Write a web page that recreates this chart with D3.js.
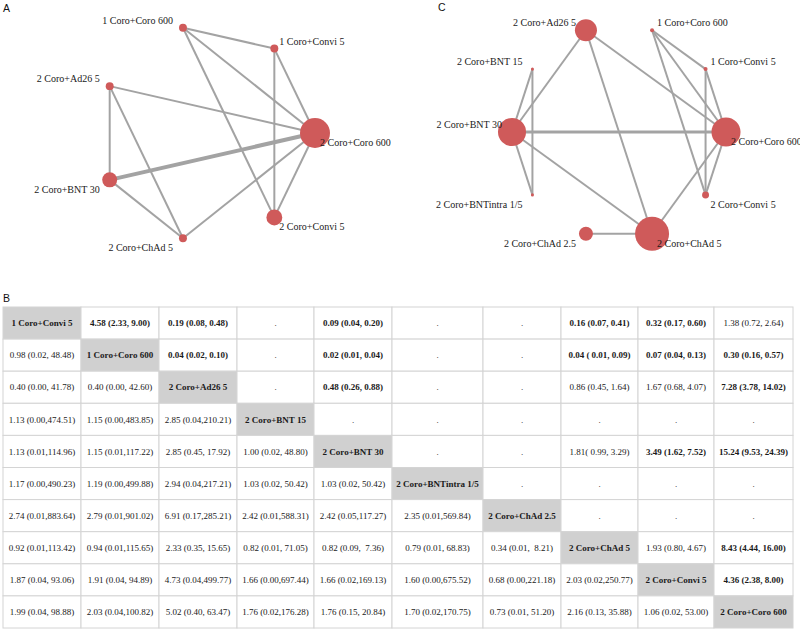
<!DOCTYPE html>
<html>
<head>
<meta charset="utf-8">
<script src="https://cdn.jsdelivr.net/npm/d3@7"></script>
<style>
  html, body { margin: 0; padding: 0; background: #fff; }
  svg { display: block; }
  .lbl { font: 10px "Liberation Serif", "Times New Roman", serif; fill: #1a1a1a; }
  .cell { font: 9px "Liberation Serif", "Times New Roman", serif; fill: #1a1a1a; white-space: pre; }
  .panel { font: 10.5px "Liberation Sans", Arial, sans-serif; fill: #111; }
</style>
</head>
<body>
<svg id="chart" width="800" height="632"></svg>
<script>
/* Rede de comparações (A, C) + tabela league (B) */

const TRAT = [
  "1 Coro+Convi 5", "1 Coro+Coro 600", "2 Coro+Ad26 5", "2 Coro+BNT 15",
  "2 Coro+BNT 30", "2 Coro+BNTintra 1/5", "2 Coro+ChAd 2.5", "2 Coro+ChAd 5",
  "2 Coro+Convi 5", "2 Coro+Coro 600",
];

// rede A: nós (na ordem do círculo), peso relativo do nó, arestas [a, b, nº estudos]
const NOS_A = ["1 Coro+Convi 5", "1 Coro+Coro 600", "2 Coro+Ad26 5", "2 Coro+BNT 30",
  "2 Coro+ChAd 5", "2 Coro+Convi 5", "2 Coro+Coro 600"];
const PESO_A = [7, 7, 7, 25, 7, 28, 100];
const ARESTAS_A = [
  ["1 Coro+Convi 5", "1 Coro+Coro 600", 1], ["1 Coro+Convi 5", "2 Coro+Coro 600", 1],
  ["1 Coro+Convi 5", "2 Coro+Convi 5", 1], ["1 Coro+Coro 600", "2 Coro+Coro 600", 1],
  ["1 Coro+Coro 600", "2 Coro+Convi 5", 1], ["2 Coro+Ad26 5", "2 Coro+Coro 600", 1],
  ["2 Coro+Ad26 5", "2 Coro+BNT 30", 1], ["2 Coro+Ad26 5", "2 Coro+ChAd 5", 1],
  ["2 Coro+BNT 30", "2 Coro+Coro 600", 3], ["2 Coro+BNT 30", "2 Coro+ChAd 5", 1],
  ["2 Coro+ChAd 5", "2 Coro+Coro 600", 1], ["2 Coro+Convi 5", "2 Coro+Coro 600", 1],
];

// rede C: todos os tratamentos
const NOS_C = TRAT;
const PESO_C = [1.4, 1.4, 42, 0.8, 68, 0.8, 17, 100, 4.2, 73];
const ARESTAS_C = [
  ["1 Coro+Convi 5", "1 Coro+Coro 600", 1], ["1 Coro+Convi 5", "2 Coro+Coro 600", 1],
  ["1 Coro+Convi 5", "2 Coro+Convi 5", 1], ["1 Coro+Coro 600", "2 Coro+Coro 600", 1],
  ["1 Coro+Coro 600", "2 Coro+Convi 5", 1], ["2 Coro+Ad26 5", "2 Coro+BNT 30", 1],
  ["2 Coro+Ad26 5", "2 Coro+ChAd 5", 1], ["2 Coro+Ad26 5", "2 Coro+Coro 600", 1],
  ["2 Coro+BNT 15", "2 Coro+BNT 30", 1], ["2 Coro+BNT 15", "2 Coro+BNTintra 1/5", 1],
  ["2 Coro+BNT 30", "2 Coro+BNTintra 1/5", 1], ["2 Coro+BNT 30", "2 Coro+Coro 600", 2],
  ["2 Coro+BNT 30", "2 Coro+ChAd 5", 1], ["2 Coro+ChAd 2.5", "2 Coro+ChAd 5", 1],
  ["2 Coro+ChAd 5", "2 Coro+Coro 600", 1], ["2 Coro+Convi 5", "2 Coro+Coro 600", 1],
];

// tabela league (null = diagonal)
const LIGA = [
  [null, "4.58 (2.33, 9.00)", "0.19 (0.08, 0.48)", ".", "0.09 (0.04, 0.20)", ".", ".", "0.16 (0.07, 0.41)", "0.32 (0.17, 0.60)", "1.38 (0.72, 2.64)"],
  ["0.98 (0.02, 48.48)", null, "0.04 (0.02, 0.10)", ".", "0.02 (0.01, 0.04)", ".", ".", "0.04 ( 0.01, 0.09)", "0.07 (0.04, 0.13)", "0.30 (0.16, 0.57)"],
  ["0.40 (0.00, 41.78)", "0.40 (0.00, 42.60)", null, ".", "0.48 (0.26, 0.88)", ".", ".", "0.86 (0.45, 1.64)", "1.67 (0.68, 4.07)", "7.28 (3.78, 14.02)"],
  ["1.13 (0.00,474.51)", "1.15 (0.00,483.85)", "2.85 (0.04,210.21)", null, ".", ".", ".", ".", ".", "."],
  ["1.13 (0.01,114.96)", "1.15 (0.01,117.22)", "2.85 (0.45, 17.92)", "1.00 (0.02, 48.80)", null, ".", ".", "1.81( 0.99, 3.29)", "3.49 (1.62, 7.52)", "15.24 (9.53, 24.39)"],
  ["1.17 (0.00,490.23)", "1.19 (0.00,499.88)", "2.94 (0.04,217.21)", "1.03 (0.02, 50.42)", "1.03 (0.02, 50.42)", null, ".", ".", ".", "."],
  ["2.74 (0.01,883.64)", "2.79 (0.01,901.02)", "6.91 (0.17,285.21)", "2.42 (0.01,588.31)", "2.42 (0.05,117.27)", "2.35 (0.01,569.84)", null, ".", ".", "."],
  ["0.92 (0.01,113.42)", "0.94 (0.01,115.65)", "2.33 (0.35, 15.65)", "0.82 (0.01, 71.05)", "0.82 (0.09,  7.36)", "0.79 (0.01, 68.83)", "0.34 (0.01,  8.21)", null, "1.93 (0.80, 4.67)", "8.43 (4.44, 16.00)"],
  ["1.87 (0.04, 93.06)", "1.91 (0.04, 94.89)", "4.73 (0.04,499.77)", "1.66 (0.00,697.44)", "1.66 (0.02,169.13)", "1.60 (0.00,675.52)", "0.68 (0.00,221.18)", "2.03 (0.02,250.77)", null, "4.36 (2.38, 8.00)"],
  ["1.99 (0.04, 98.88)", "2.03 (0.04,100.82)", "5.02 (0.40, 63.47)", "1.76 (0.02,176.28)", "1.76 (0.15, 20.84)", "1.70 (0.02,170.75)", "0.73 (0.01, 51.20)", "2.16 (0.13, 35.88)", "1.06 (0.02, 53.00)", null],
];
// células em negrito (linha,coluna)
const NEGRITO = ["0,1", "0,2", "0,4", "0,7", "0,8", "1,2", "1,4", "1,7", "1,8", "1,9",
  "2,4", "2,9", "4,8", "4,9", "7,9", "8,9"];

const COR_NO = "#cf5a5a", COR_ARESTA = "#a3a3a3", COR_DIAG = "#d0d0d0", COR_GRADE = "#d4d4d4";

const svg = d3.select("#chart");
const larguraAresta = d3.scaleLinear().domain([1, 3]).range([2, 4]);

function rede(nos, pesos, arestas, cx, cy, raio, rMax) {
  const n = nos.length;
  const rNo = d3.scaleSqrt().domain([0, d3.max(pesos)]).range([0, rMax]);
  const pos = {};
  nos.forEach((t, k) => {
    const a = -(k + 1) * 2 * Math.PI / n;
    pos[t] = { x: cx + raio * Math.cos(a), y: cy + raio * Math.sin(a),
               c: Math.cos(a), s: Math.sin(a), r: rNo(pesos[k]), nome: t };
  });
  const g = svg.append("g");
  g.append("g").selectAll("line").data(arestas).join("line")
    .attr("x1", (d) => pos[d[0]].x).attr("y1", (d) => pos[d[0]].y)
    .attr("x2", (d) => pos[d[1]].x).attr("y2", (d) => pos[d[1]].y)
    .attr("stroke", COR_ARESTA).attr("stroke-width", (d) => larguraAresta(d[2]));
  const lista = Object.values(pos);
  g.append("g").selectAll("circle").data(lista).join("circle")
    .attr("cx", (d) => d.x).attr("cy", (d) => d.y).attr("r", (d) => d.r)
    .attr("fill", COR_NO);
  g.append("g").selectAll("text").data(lista).join("text")
    .attr("class", "lbl")
    .attr("x", (d) => d.x + (d.c > 0.01 ? 5 : -10))
    .attr("y", (d) => d.y + (d.s > 0 ? 13 : -4))
    .attr("text-anchor", (d) => (d.c > 0.01 ? "start" : "end"))
    .text((d) => d.nome);
}

rede(NOS_A, PESO_A, ARESTAS_A, 207, 133, 108, 15);
rede(NOS_C, PESO_C, ARESTAS_C, 619, 132, 107, 17);

/* ---------------- tabela ---------------------------------------------------- */
const LARG_COL = [78, 78, 78, 77, 78, 91, 78, 77, 76, 79];
const xCol = [3];
LARG_COL.forEach((w, i) => xCol.push(xCol[i] + w));
const y = d3.scaleBand().domain(d3.range(TRAT.length)).range([307, 628]);
const negrito = new Set(NEGRITO);

const celulas = [];
LIGA.forEach((linha, i) => linha.forEach((v, j) => celulas.push({
  i, j, diag: v === null, txt: v === null ? TRAT[i] : v,
  bold: v === null || negrito.has(`${i},${j}`),
})));

const gT = svg.append("g");
gT.selectAll("rect").data(celulas).join("rect")
  .attr("x", (d) => xCol[d.j]).attr("y", (d) => y(d.i))
  .attr("width", (d) => LARG_COL[d.j]).attr("height", y.bandwidth())
  .attr("fill", (d) => (d.diag ? COR_DIAG : "#fff"))
  .attr("stroke", COR_GRADE).attr("stroke-width", 1);
gT.selectAll("text").data(celulas).join("text")
  .attr("class", "cell")
  .attr("x", (d) => xCol[d.j] + LARG_COL[d.j] / 2)
  .attr("y", (d) => y(d.i) + y.bandwidth() / 2)
  .attr("dy", "0.35em").attr("text-anchor", "middle")
  .style("font-weight", (d) => (d.bold ? "bold" : "normal"))
  .text((d) => d.txt);

svg.append("text").attr("class", "panel").attr("x", 3).attr("y", 12).text("A");
svg.append("text").attr("class", "panel").attr("x", 438).attr("y", 11).text("C");
svg.append("text").attr("class", "panel").attr("x", 3).attr("y", 302).text("B");
</script>
</body>
</html>
